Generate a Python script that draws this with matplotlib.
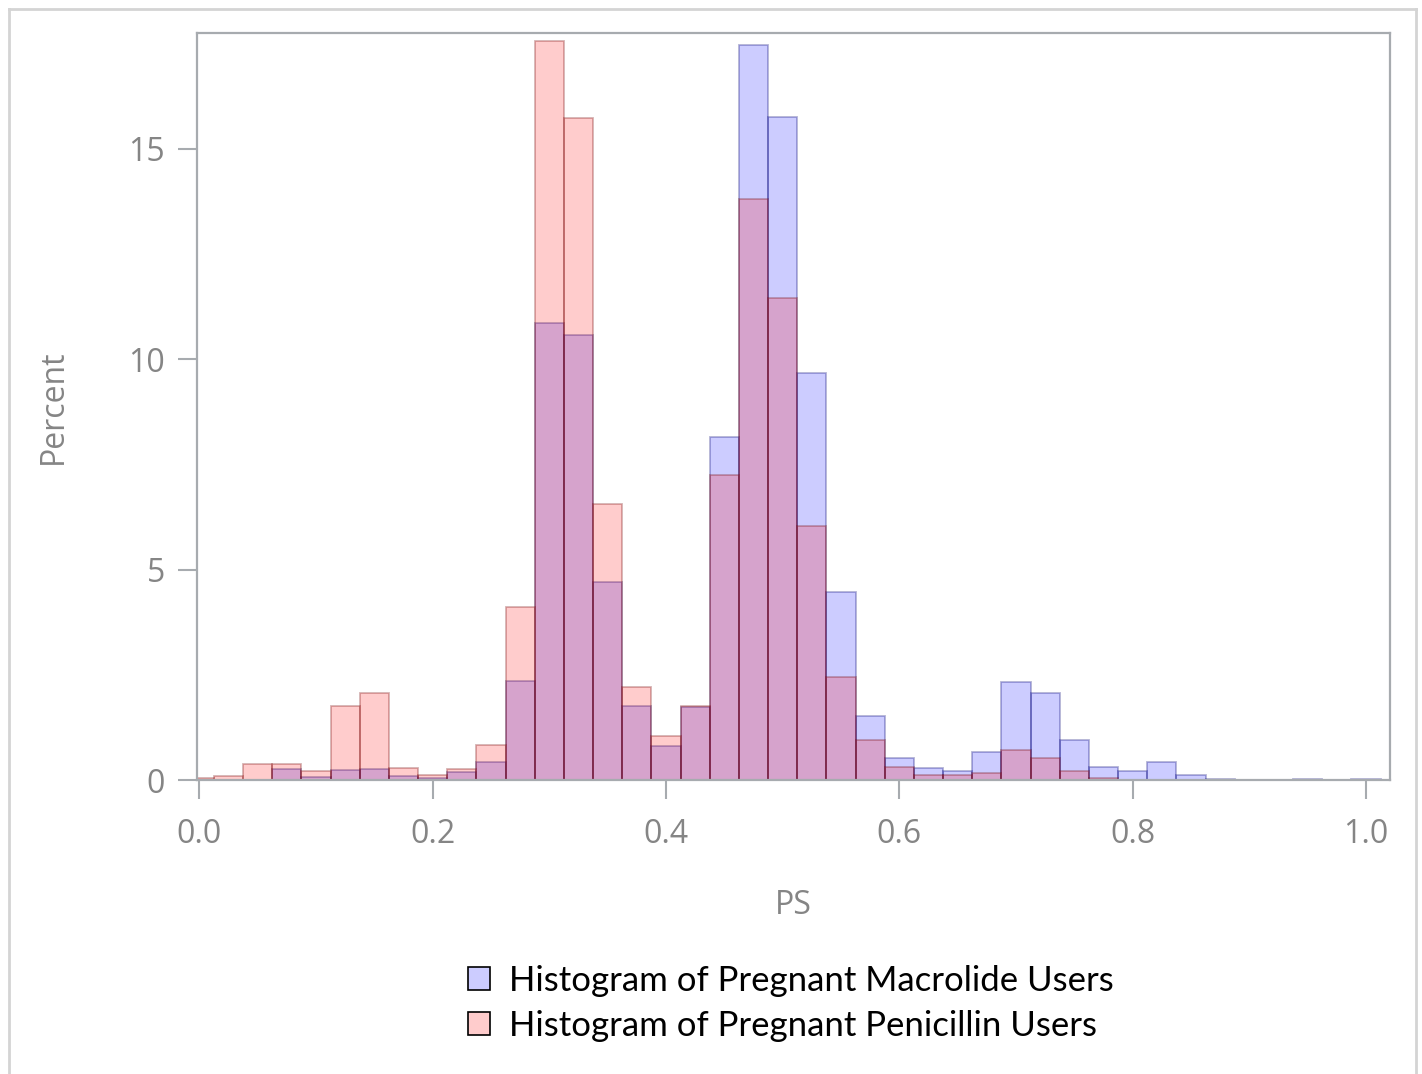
import matplotlib.pyplot as plt
from matplotlib.patches import Patch
from matplotlib.lines import Line2D

plt.rcParams['font.family'] = ['Open Sans', 'DejaVu Sans']

# bin centers (PS), bin width 0.025
ps_bins = [0.000, 0.025, 0.050, 0.075, 0.100, 0.125, 0.150, 0.175, 0.200, 0.225,
           0.250, 0.275, 0.300, 0.325, 0.350, 0.375, 0.400, 0.425, 0.450, 0.475,
           0.500, 0.525, 0.550, 0.575, 0.600, 0.625, 0.650, 0.675, 0.700, 0.725,
           0.750, 0.775, 0.800, 0.825, 0.850, 0.875, 0.900, 0.925, 0.950, 0.975,
           1.000]

macrolide_pct = [0.00, 0.00, 0.00, 0.27, 0.08, 0.24, 0.27, 0.09, 0.06, 0.18,
                 0.42, 2.35, 10.85, 10.58, 4.70, 1.77, 0.80, 1.74, 8.15, 17.46,
                 15.75, 9.67, 4.48, 1.53, 0.53, 0.29, 0.21, 0.66, 2.34, 2.07,
                 0.95, 0.30, 0.22, 0.44, 0.12, 0.03, 0.01, 0.01, 0.02, 0.01,
                 0.02]

penicillin_pct = [0.05, 0.10, 0.39, 0.39, 0.21, 1.77, 2.07, 0.29, 0.11, 0.26,
                  0.84, 4.12, 17.55, 15.72, 6.55, 2.21, 1.04, 1.76, 7.25, 13.80,
                  11.45, 6.03, 2.44, 0.94, 0.32, 0.12, 0.11, 0.16, 0.72, 0.52,
                  0.22, 0.05, 0.00, 0.00, 0.00, 0.00, 0.00, 0.00, 0.00, 0.00,
                  0.00]

bin_width = 0.025
grey_txt = '#858585'
grey_axis = '#a7abaf'

fig = plt.figure(figsize=(14.22, 10.74), dpi=100)
ax = fig.add_axes([0.1385, 0.2737, 0.8390, 0.6959])

ax.bar(ps_bins, macrolide_pct, width=bin_width, align='center',
       color=(0, 0, 1, 0.2), edgecolor=(0, 0, 0.45, 0.3), linewidth=1.3)
ax.bar(ps_bins, penicillin_pct, width=bin_width, align='center',
       color=(1, 0, 0, 0.2), edgecolor=(0.45, 0, 0, 0.3), linewidth=1.3)

ax.set_xlim(-0.002, 1.0206)
ax.set_ylim(0, 17.76)
ax.set_xticks([0.0, 0.2, 0.4, 0.6, 0.8, 1.0])
ax.set_xticklabels(['0.0', '0.2', '0.4', '0.6', '0.8', '1.0'])
ax.set_yticks([0, 5, 10, 15])

for s in ax.spines.values():
    s.set_color(grey_axis)
    s.set_linewidth(1.6)

ax.tick_params(axis='both', colors=grey_axis, labelcolor=grey_txt,
               length=14, width=1.5, labelsize=23)
ax.tick_params(axis='x', pad=13)
ax.tick_params(axis='y', pad=9)

ax.set_xlabel('PS', fontsize=23, color=grey_txt, labelpad=28)
ax.set_ylabel('Percent', fontsize=23, color=grey_txt, labelpad=42)

handles = [Patch(facecolor='#ccccff', edgecolor='black', linewidth=1.2),
           Patch(facecolor='#ffcccc', edgecolor='black', linewidth=1.2)]
fig.legend(handles, ['Histogram of Pregnant Macrolide Users',
                     'Histogram of Pregnant Penicillin Users'],
           loc='upper left', bbox_to_anchor=(0.307, 0.131),
           frameon=False, handlelength=0.65, handleheight=0.65,
           handletextpad=0.55, labelspacing=0.38,
           prop={'family': 'Lato', 'size': 25})

# light border around the figure
bc = '#d4d4d4'
fig.add_artist(Line2D([0.006, 0.006], [0, 0.992], color=bc, lw=2, transform=fig.transFigure))
fig.add_artist(Line2D([0.006, 0.9955], [0.992, 0.992], color=bc, lw=2, transform=fig.transFigure))
fig.add_artist(Line2D([0.9955, 0.9955], [0, 0.992], color=bc, lw=2, transform=fig.transFigure))

fig.savefig('out.png', dpi=100)
